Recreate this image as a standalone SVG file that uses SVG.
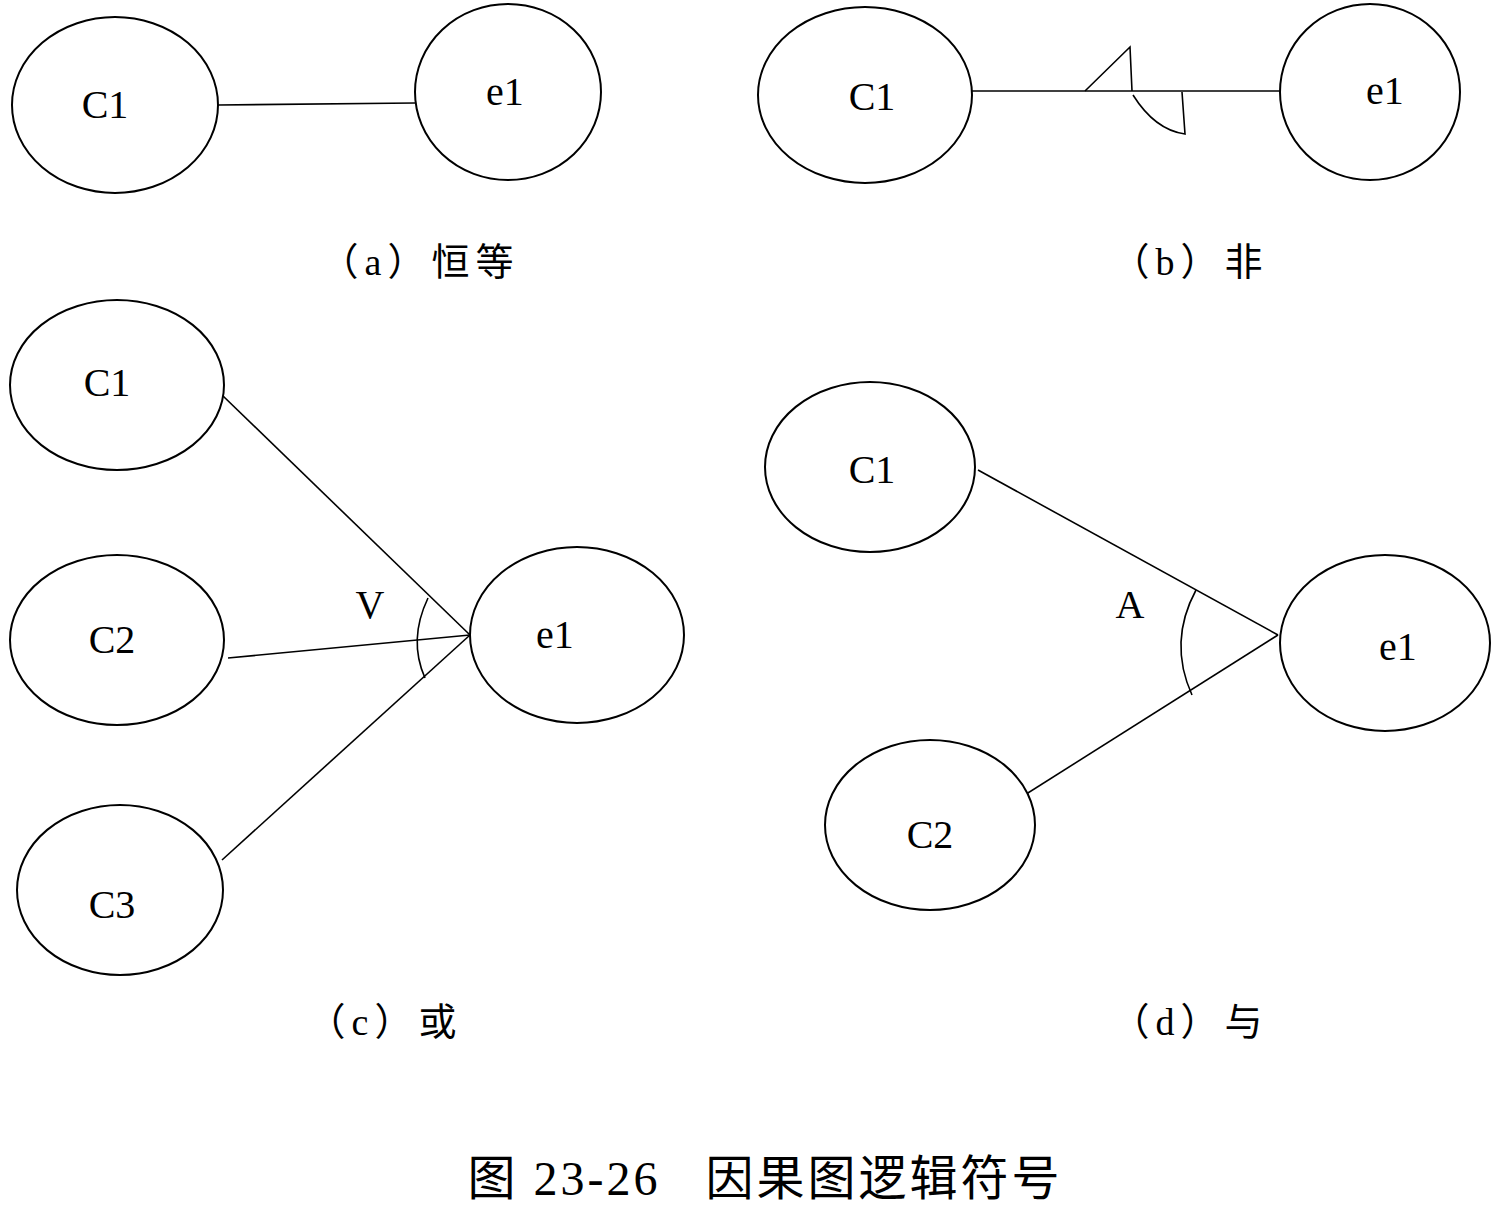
<svg xmlns="http://www.w3.org/2000/svg" width="1499" height="1211" viewBox="0 0 1499 1211">
<style>
ellipse{fill:#fff;stroke:#000;stroke-width:2}
.c line,.c path{stroke:#000;stroke-width:1.6;fill:none}
text{font-family:"Liberation Serif","Noto Sans CJK SC",serif;fill:#000;text-anchor:middle}
.n{font-size:40px}
.cap{font-size:38px;letter-spacing:6px}
</style>
<rect width="1499" height="1211" fill="#fff"/>
<g class="c" id="connectors">
<line x1="218" y1="105" x2="415" y2="103"/>
<line x1="972" y1="91" x2="1280" y2="91"/>
<path d="M1085 91 L1130 47 L1132 91 M1133 95 Q1155 130 1185 134 L1182 92"/>
<line x1="222" y1="395" x2="470" y2="635"/>
<line x1="228" y1="658" x2="470" y2="635"/>
<line x1="222" y1="860" x2="470" y2="635"/>
<path d="M428 598 Q408 640 425 678"/>
<line x1="978" y1="470" x2="1278" y2="635"/>
<line x1="1012" y1="803" x2="1278" y2="635"/>
<path d="M1196 590 Q1168 642 1192 695"/>
</g>
<g id="a_c1"><ellipse cx="115" cy="105" rx="103" ry="88"/><text class="n" x="105" y="118">C1</text></g>
<g id="a_e1"><ellipse cx="508" cy="92" rx="93" ry="88"/><text class="n" x="505" y="105">e1</text></g>
<text class="cap" x="420" y="275">（a）恒等</text>
<g id="b_c1"><ellipse cx="865" cy="95" rx="107" ry="88"/><text class="n" x="872" y="110">C1</text></g>
<g id="b_e1"><ellipse cx="1370" cy="92" rx="90" ry="88"/><text class="n" x="1385" y="104">e1</text></g>
<text class="cap" x="1190" y="275">（b）非</text>
<g id="c_c1"><ellipse cx="117" cy="385" rx="107" ry="85"/><text class="n" x="107" y="396">C1</text></g>
<g id="c_c2"><ellipse cx="117" cy="640" rx="107" ry="85"/><text class="n" x="112" y="653">C2</text></g>
<g id="c_c3"><ellipse cx="120" cy="890" rx="103" ry="85"/><text class="n" x="112" y="918">C3</text></g>
<g id="c_e1"><ellipse cx="577" cy="635" rx="107" ry="88"/><text class="n" x="555" y="648">e1</text></g>
<text class="n" x="370" y="618">V</text>
<text class="cap" x="385" y="1035">（c）或</text>
<g id="d_c1"><ellipse cx="870" cy="467" rx="105" ry="85"/><text class="n" x="872" y="483">C1</text></g>
<g id="d_c2"><ellipse cx="930" cy="825" rx="105" ry="85"/><text class="n" x="930" y="848">C2</text></g>
<g id="d_e1"><ellipse cx="1385" cy="643" rx="105" ry="88"/><text class="n" x="1398" y="660">e1</text></g>
<text class="n" x="1130" y="618">A</text>
<text class="cap" x="1190" y="1035">（d）与</text>
<text x="765" y="1195" xml:space="preserve" style="font-size:48px;letter-spacing:3px">图 23-26   因果图逻辑符号</text>
</svg>
